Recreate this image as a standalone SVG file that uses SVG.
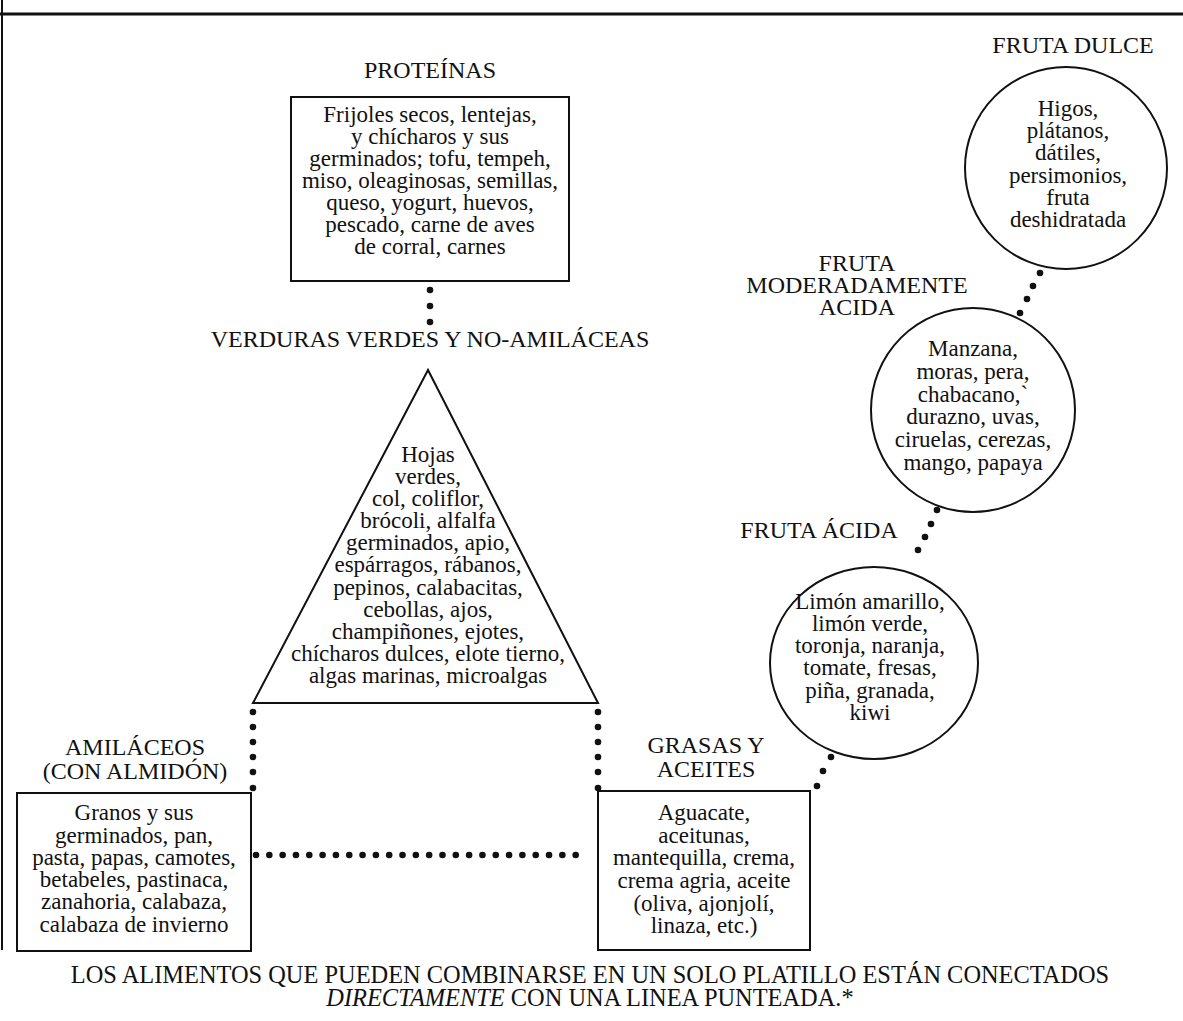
<svg xmlns="http://www.w3.org/2000/svg" width="1183" height="1021" viewBox="0 0 1183 1021">
<style>
text{font-family:"Liberation Serif","Times New Roman",serif;fill:#111;text-anchor:middle}
.lbl{font-size:24px}
.body{font-size:23px}
.cap{font-size:24.4px}
.shape{fill:#fff;stroke:#111;stroke-width:2}
.frame{stroke:#111;fill:none}
.dot{fill:#111}
</style>
<rect width="1183" height="1021" fill="#fff"/>
<g id="frame">
<line class="frame" x1="0" y1="14" x2="1183" y2="14" stroke-width="3"/>
<line class="frame" x1="2" y1="0" x2="2" y2="950" stroke-width="2"/>
</g>
<g id="connectors">
<circle class="dot" cx="430" cy="290" r="3.3"/><circle class="dot" cx="430" cy="306" r="3.3"/><circle class="dot" cx="430" cy="322" r="3.3"/>
<g id="tri-amil">
<circle class="dot" cx="253" cy="712" r="3.3"/><circle class="dot" cx="253" cy="727" r="3.3"/><circle class="dot" cx="253" cy="742" r="3.3"/><circle class="dot" cx="253" cy="757" r="3.3"/><circle class="dot" cx="253" cy="772" r="3.3"/><circle class="dot" cx="253" cy="788" r="3.3"/>
</g>
<g id="tri-grasas">
<circle class="dot" cx="598" cy="712" r="3.3"/><circle class="dot" cx="598" cy="727" r="3.3"/><circle class="dot" cx="598" cy="742" r="3.3"/><circle class="dot" cx="598" cy="757" r="3.3"/><circle class="dot" cx="598" cy="772" r="3.3"/><circle class="dot" cx="598" cy="788" r="3.3"/>
</g>
<line id="amil-grasas" x1="256" y1="855" x2="589" y2="855" stroke="#111" stroke-width="6.6" stroke-linecap="round" stroke-dasharray="0 13.32"/>
<g id="grasas-acida">
<circle class="dot" cx="817" cy="786" r="3.3"/><circle class="dot" cx="823" cy="771" r="3.3"/><circle class="dot" cx="831" cy="757" r="3.3"/>
</g>
<g id="acida-mod">
<circle class="dot" cx="918" cy="550" r="3.3"/><circle class="dot" cx="925" cy="537" r="3.3"/><circle class="dot" cx="931" cy="524" r="3.3"/><circle class="dot" cx="937" cy="510" r="3.3"/>
</g>
<g id="mod-dulce">
<circle class="dot" cx="1020" cy="313" r="3.3"/><circle class="dot" cx="1027" cy="299" r="3.3"/><circle class="dot" cx="1033" cy="286" r="3.3"/><circle class="dot" cx="1040" cy="273" r="3.3"/>
</g>
</g>
<g id="proteinas">
<text class="lbl" x="430" y="78">PROTEÍNAS</text>
<rect class="shape" x="291" y="97" width="278" height="184"/>
<text class="body" x="430" y="122">Frijoles secos, lentejas,</text>
<text class="body" x="430" y="144">y chícharos y sus</text>
<text class="body" x="430" y="166">germinados; tofu, tempeh,</text>
<text class="body" x="430" y="188">miso, oleaginosas, semillas,</text>
<text class="body" x="430" y="210">queso, yogurt, huevos,</text>
<text class="body" x="430" y="232">pescado, carne de aves</text>
<text class="body" x="430" y="254">de corral, carnes</text>
</g>
<g id="verduras">
<text class="lbl" x="430" y="347">VERDURAS VERDES Y NO-AMILÁCEAS</text>
<polygon class="shape" points="428,370 253,703 598,703"/>
<text class="body" x="428" y="462">Hojas</text>
<text class="body" x="428" y="484">verdes,</text>
<text class="body" x="428" y="506">col, coliflor,</text>
<text class="body" x="428" y="528">brócoli, alfalfa</text>
<text class="body" x="428" y="550">germinados, apio,</text>
<text class="body" x="428" y="572">espárragos, rábanos,</text>
<text class="body" x="428" y="595">pepinos, calabacitas,</text>
<text class="body" x="428" y="617">cebollas, ajos,</text>
<text class="body" x="428" y="639">champiñones, ejotes,</text>
<text class="body" x="428" y="661">chícharos dulces, elote tierno,</text>
<text class="body" x="428" y="683">algas marinas, microalgas</text>
</g>
<g id="amilaceos">
<text class="lbl" x="135" y="755">AMILÁCEOS</text>
<text class="lbl" x="135" y="779">(CON ALMIDÓN)</text>
<rect class="shape" x="17" y="793" width="234" height="158"/>
<text class="body" x="134" y="820">Granos y sus</text>
<text class="body" x="134" y="843">germinados, pan,</text>
<text class="body" x="134" y="865">pasta, papas, camotes,</text>
<text class="body" x="134" y="887">betabeles, pastinaca,</text>
<text class="body" x="134" y="909">zanahoria, calabaza,</text>
<text class="body" x="134" y="932">calabaza de invierno</text>
</g>
<g id="grasas">
<text class="lbl" x="706" y="753">GRASAS Y</text>
<text class="lbl" x="706" y="777">ACEITES</text>
<rect class="shape" x="598" y="791" width="212" height="159"/>
<text class="body" x="704" y="820">Aguacate,</text>
<text class="body" x="704" y="843">aceitunas,</text>
<text class="body" x="704" y="865">mantequilla, crema,</text>
<text class="body" x="704" y="888">crema agria, aceite</text>
<text class="body" x="704" y="911">(oliva, ajonjolí,</text>
<text class="body" x="704" y="933">linaza, etc.)</text>
</g>
<g id="fruta-dulce">
<text class="lbl" x="1073" y="53">FRUTA DULCE</text>
<circle class="shape" cx="1066" cy="168" r="101"/>
<text class="body" x="1068" y="116">Higos,</text>
<text class="body" x="1068" y="138">plátanos,</text>
<text class="body" x="1068" y="160">dátiles,</text>
<text class="body" x="1068" y="183">persimonios,</text>
<text class="body" x="1068" y="205">fruta</text>
<text class="body" x="1068" y="227">deshidratada</text>
</g>
<g id="fruta-moderada">
<text class="lbl" x="857" y="271">FRUTA</text>
<text class="lbl" x="857" y="293">MODERADAMENTE</text>
<text class="lbl" x="857" y="315">ACIDA</text>
<circle class="shape" cx="973" cy="410" r="102"/>
<text class="body" x="973" y="356">Manzana,</text>
<text class="body" x="973" y="379">moras, pera,</text>
<text class="body" x="973" y="402">chabacano,`</text>
<text class="body" x="973" y="424">durazno, uvas,</text>
<text class="body" x="973" y="447">ciruelas, cerezas,</text>
<text class="body" x="973" y="470">mango, papaya</text>
</g>
<g id="fruta-acida">
<text class="lbl" x="819" y="538">FRUTA ÁCIDA</text>
<ellipse class="shape" cx="874" cy="663" rx="104" ry="96"/>
<text class="body" x="870" y="609">Limón amarillo,</text>
<text class="body" x="870" y="631">limón verde,</text>
<text class="body" x="870" y="653">toronja, naranja,</text>
<text class="body" x="870" y="675">tomate, fresas,</text>
<text class="body" x="870" y="698">piña, granada,</text>
<text class="body" x="870" y="720">kiwi</text>
</g>
<g id="caption">
<text class="cap" x="590" y="983">LOS ALIMENTOS QUE PUEDEN COMBINARSE EN UN SOLO PLATILLO ESTÁN CONECTADOS</text>
<text class="cap" x="590" y="1006"><tspan font-style="italic">DIRECTAMENTE</tspan> CON UNA LINEA PUNTEADA.*</text>
</g>
</svg>
